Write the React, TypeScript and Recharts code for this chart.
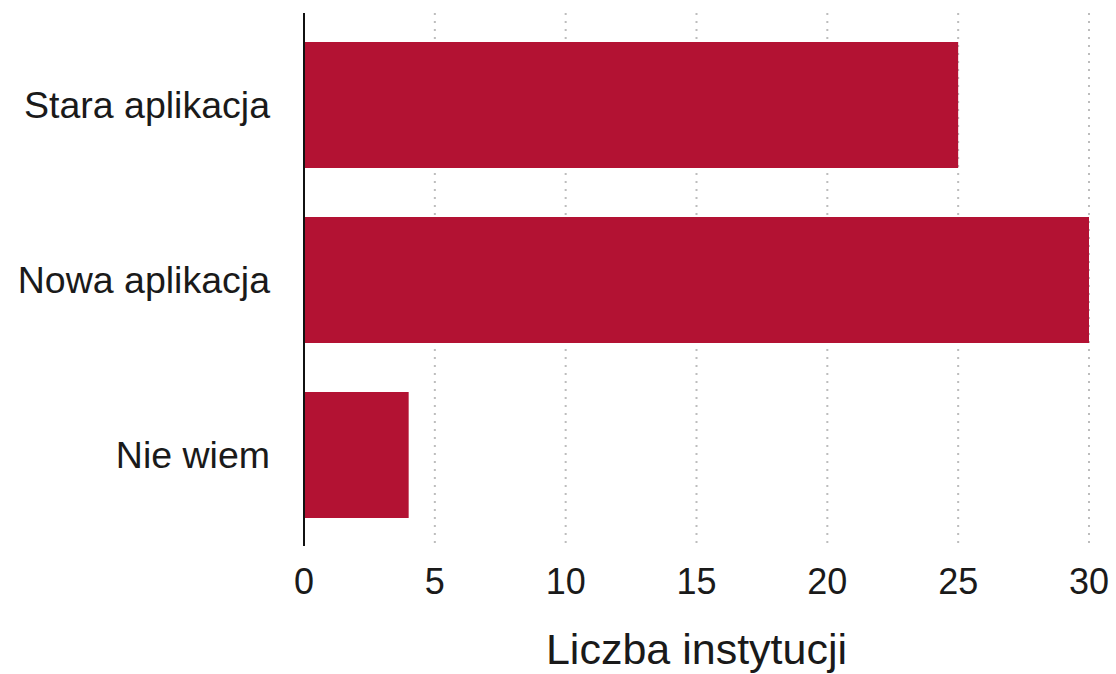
import { Bar, BarChart, CartesianGrid, Label, XAxis, YAxis } from "recharts";

const categories = ["Stara aplikacja", "Nowa aplikacja", "Nie wiem"];
const counts = [25, 30, 4];
const xTicks = [0, 5, 10, 15, 20, 25, 30];

const data = categories.map((name, i) => ({ name, value: counts[i] }));

const FONT = '"Liberation Sans", Arial, Helvetica, sans-serif';

export default function App() {
  return (
    <div style={{ position: "absolute", left: 0, top: 0, background: "#fff" }}>
      <BarChart
        width={1116}
        height={674}
        data={data}
        layout="vertical"
        margin={{ top: 13, right: 27, bottom: 0, left: 14 }}
      >
        <CartesianGrid horizontal={false} stroke="#bdbdbd" strokeWidth={2} strokeDasharray="2 6" />
        <XAxis
          type="number"
          domain={[0, 30]}
          ticks={xTicks}
          interval={0}
          axisLine={false}
          tickLine={false}
          tickMargin={16}
          height={128}
          tick={{ fill: "#1a1a1a", fontSize: 36, fontFamily: FONT }}
        >
          <Label
            value="Liczba instytucji"
            position="insideBottom"
            offset={10}
            style={{ fill: "#1a1a1a", fontSize: 43, fontFamily: FONT }}
          />
        </XAxis>
        <YAxis
          type="category"
          dataKey="name"
          width={290}
          padding={{ top: 4, bottom: 4 }}
          axisLine={{ stroke: "#111", strokeWidth: 2 }}
          tickLine={false}
          tickMargin={28}
          tick={{ fill: "#1a1a1a", fontSize: 37.5, fontFamily: FONT }}
        />
        <Bar dataKey="value" fill="#b31233" barSize={126} isAnimationActive={false} />
      </BarChart>
    </div>
  );
}
